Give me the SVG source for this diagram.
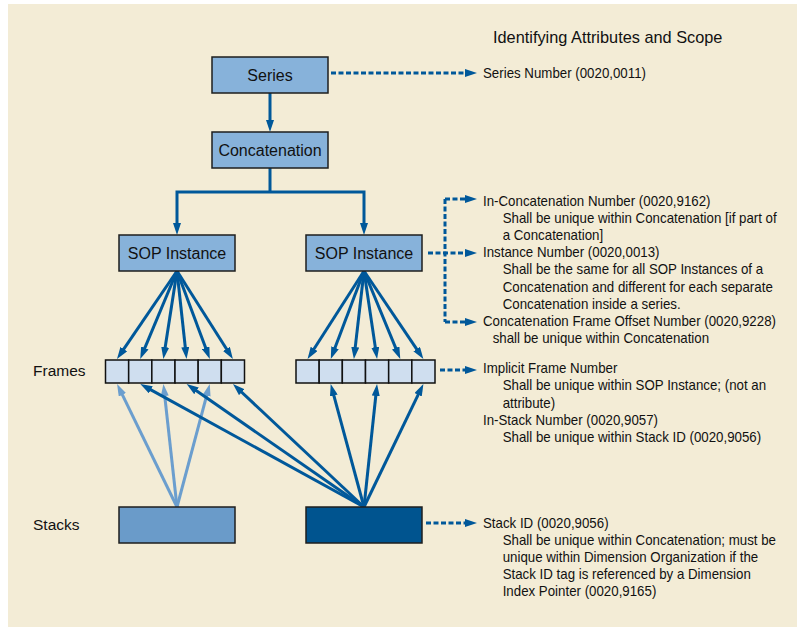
<svg xmlns="http://www.w3.org/2000/svg" width="797" height="627" viewBox="0 0 797 627">
<defs>
<style>
.box{fill:#87B2DA;stroke:#1E1E1E;stroke-width:1.5}
.cell{fill:#CFDEEF;stroke:#111;stroke-width:1.5}
.lbl{font-family:"Liberation Sans",Arial,sans-serif;font-size:16px;fill:#111;text-anchor:middle}
.side{font-family:"Liberation Sans",Arial,sans-serif;font-size:15.5px;fill:#111}
.t{font-family:"Liberation Sans",Arial,sans-serif;font-size:14px;fill:#111}
.solid{fill:none;stroke:#00589A;stroke-width:3;marker-end:url(#ah)}
.light{fill:none;stroke:#6B9ECE;stroke-width:3;marker-end:url(#ahl)}
.dash{fill:none;stroke:#00589A;stroke-width:3;stroke-dasharray:5 2.5}
.dasha{fill:none;stroke:#00589A;stroke-width:3;stroke-dasharray:5 2.5;marker-end:url(#ah)}
</style>
<marker id="ah" markerUnits="userSpaceOnUse" markerWidth="12" markerHeight="8" refX="4" refY="4" orient="auto"><path d="M0,0 L12,4 L0,8 z" fill="#00589A"/></marker>
<marker id="ahl" markerUnits="userSpaceOnUse" markerWidth="12" markerHeight="8" refX="4" refY="4" orient="auto"><path d="M0,0 L12,4 L0,8 z" fill="#6B9ECE"/></marker>
</defs>
<rect x="0" y="0" width="797" height="627" fill="#FFFFFF"/>
<rect x="8" y="4" width="789" height="623" fill="#F3ECD6"/>

<text class="t" x="0" y="0" transform="translate(493,43) scale(0.96,1)" style="font-size:17px">Identifying Attributes and Scope</text>

<g id="connectors">
<path class="solid" d="M270,93 V124"/>
<path fill="none" stroke="#00589A" stroke-width="3" d="M270,168 V192"/>
<path class="solid" d="M270,192 H177 V227"/>
<path class="solid" d="M270,192 H364 V227"/>
<!-- left SOP fan -->
<path class="solid" d="M177,271 L121.5,352.4"/>
<path class="solid" d="M177,271 L143.3,351.6"/>
<path class="solid" d="M177,271 L164.6,351.1"/>
<path class="solid" d="M177,271 L185.7,351.0"/>
<path class="solid" d="M177,271 L207.0,351.5"/>
<path class="solid" d="M177,271 L228.6,352.3"/>
<!-- right SOP fan -->
<path class="solid" d="M364,271 L311.9,352.3"/>
<path class="solid" d="M364,271 L333.6,351.5"/>
<path class="solid" d="M364,271 L354.8,351.1"/>
<path class="solid" d="M364,271 L375.9,351.1"/>
<path class="solid" d="M364,271 L397.2,351.6"/>
<path class="solid" d="M364,271 L418.9,352.4"/>
<!-- light stack arrows -->
<path class="light" d="M177,507 L120.6,391.2"/>
<path class="light" d="M177,507 L164.3,392.0"/>
<path class="light" d="M177,507 L207.7,391.7"/>
<!-- dark stack arrows -->
<path class="solid" d="M364,507 L147.3,387.9"/>
<path class="solid" d="M364,507 L193.2,388.6"/>
<path class="solid" d="M364,507 L238.8,389.5"/>
<path class="solid" d="M364,507 L332.8,391.7"/>
<path class="solid" d="M364,507 L376.2,392.0"/>
<path class="solid" d="M364,507 L419.9,391.2"/>
<!-- dashed attribute arrows -->
<path class="dasha" d="M331,73 H469"/>
<path class="dash" d="M445,199 V322"/>
<path class="dasha" d="M445,199 H469"/>
<path class="dasha" d="M428,253 H469"/>
<path class="dasha" d="M445,322 H469"/>
<path class="dasha" d="M440,370 H469"/>
<path class="dasha" d="M426,523 H469"/>
</g>

<g id="series">
<rect class="box" x="212" y="57" width="116" height="36"/>
<text class="lbl" x="270" y="80.7">Series</text>
</g>
<g id="concatenation">
<rect class="box" x="212" y="132" width="116" height="36"/>
<text class="lbl" x="270" y="155.7">Concatenation</text>
</g>
<g id="sop-left">
<rect class="box" x="119" y="235" width="116" height="36"/>
<text class="lbl" x="177" y="258.7">SOP Instance</text>
</g>
<g id="sop-right">
<rect class="box" x="306" y="235" width="116" height="36"/>
<text class="lbl" x="364" y="258.7">SOP Instance</text>
</g>
<g id="frames-left">
<rect class="cell" x="105.5" y="360" width="23.17" height="23"/>
<rect class="cell" x="128.67" y="360" width="23.17" height="23"/>
<rect class="cell" x="151.83" y="360" width="23.17" height="23"/>
<rect class="cell" x="175" y="360" width="23.17" height="23"/>
<rect class="cell" x="198.17" y="360" width="23.17" height="23"/>
<rect class="cell" x="221.33" y="360" width="23.17" height="23"/>
</g>
<g id="frames-right">
<rect class="cell" x="296" y="360" width="23.17" height="23"/>
<rect class="cell" x="319.17" y="360" width="23.17" height="23"/>
<rect class="cell" x="342.33" y="360" width="23.17" height="23"/>
<rect class="cell" x="365.5" y="360" width="23.17" height="23"/>
<rect class="cell" x="388.67" y="360" width="23.17" height="23"/>
<rect class="cell" x="411.83" y="360" width="23.17" height="23"/>
</g>
<g id="stack-left">
<rect x="119" y="507" width="116" height="36" fill="#6A9BC9" stroke="#1E1E1E" stroke-width="1.5"/>
</g>
<g id="stack-right">
<rect x="306" y="507" width="116" height="36" fill="#00548F" stroke="#1E1E1E" stroke-width="1.5"/>
</g>

<g id="labels">
<text class="side" x="33" y="376">Frames</text>
<text class="side" x="33" y="530">Stacks</text>
</g>

<g id="attr-series" transform="translate(483,0) scale(0.95,1)">
<text class="t" x="0" y="78">Series Number (0020,0011)</text>
</g>
<g id="attr-sop" transform="translate(483,0) scale(0.95,1)">
<text class="t" x="0" y="205.7">In-Concatenation Number (0020,9162)</text>
<text class="t" x="20.7" y="222.9">Shall be unique within Concatenation [if part of</text>
<text class="t" x="20.7" y="240.1">a Concatenation]</text>
<text class="t" x="0" y="257.3">Instance Number (0020,0013)</text>
<text class="t" x="20.7" y="274.5">Shall be the same for all SOP Instances of a</text>
<text class="t" x="20.7" y="291.7">Concatenation and different for each separate</text>
<text class="t" x="20.7" y="308.9">Concatenation inside a series.</text>
<text class="t" x="0" y="326.1">Concatenation Frame Offset Number (0020,9228)</text>
<text class="t" x="10.2" y="343.3">shall be unique within Concatenation</text>
</g>
<g id="attr-frames" transform="translate(483,0) scale(0.95,1)">
<text class="t" x="0" y="373.3">Implicit Frame Number</text>
<text class="t" x="20.7" y="390.5">Shall be unique within SOP Instance; (not an</text>
<text class="t" x="20.7" y="407.7">attribute)</text>
<text class="t" x="0" y="424.9">In-Stack Number (0020,9057)</text>
<text class="t" x="20.7" y="442.1">Shall be unique within Stack ID (0020,9056)</text>
</g>
<g id="attr-stack" transform="translate(483,0) scale(0.95,1)">
<text class="t" x="0" y="527.7">Stack ID (0020,9056)</text>
<text class="t" x="20.7" y="544.9">Shall be unique within Concatenation; must be</text>
<text class="t" x="20.7" y="562.1">unique within Dimension Organization if the</text>
<text class="t" x="20.7" y="579.3">Stack ID tag is referenced by a Dimension</text>
<text class="t" x="20.7" y="596.5">Index Pointer (0020,9165)</text>
</g>
</svg>
